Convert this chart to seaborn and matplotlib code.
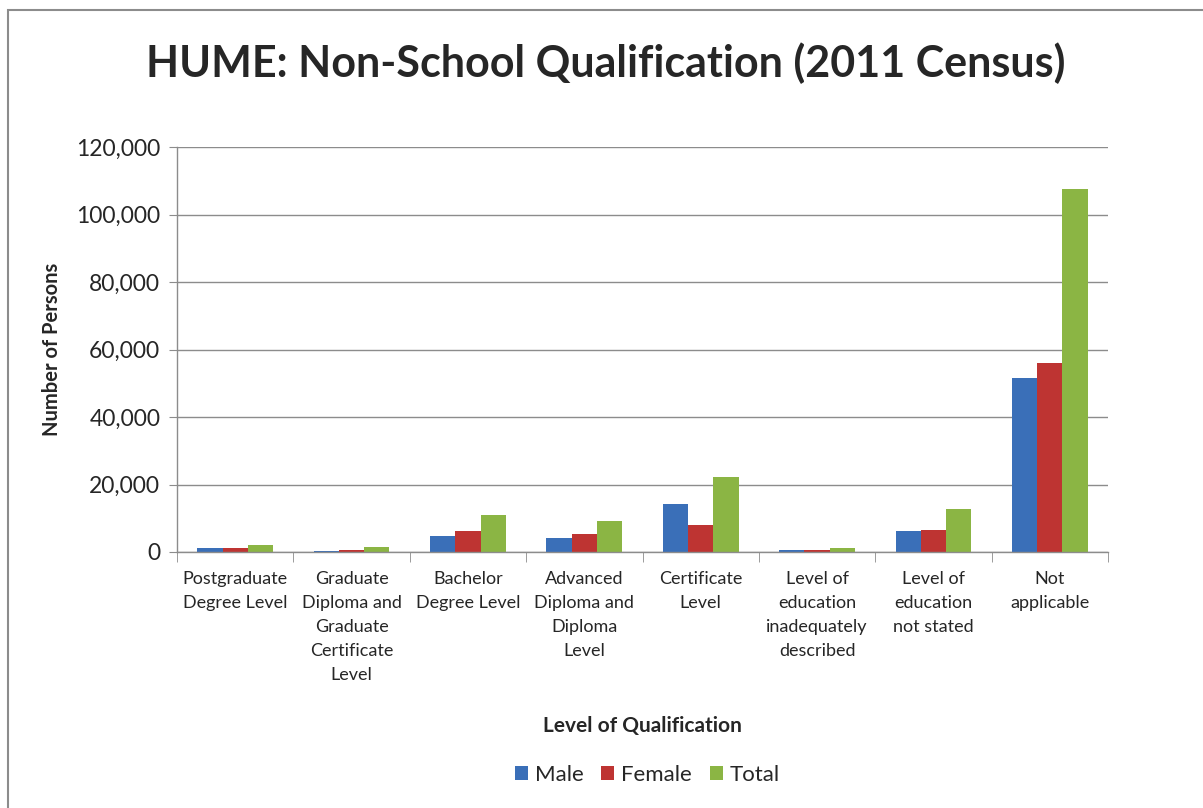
import pandas as pd
import matplotlib.pyplot as plt
import seaborn as sns
from matplotlib.patches import Rectangle
from matplotlib.ticker import FuncFormatter, FixedLocator

categories = ['Postgraduate\nDegree Level',
              'Graduate\nDiploma and\nGraduate\nCertificate\nLevel',
              'Bachelor\nDegree Level',
              'Advanced\nDiploma and\nDiploma\nLevel',
              'Certificate\nLevel',
              'Level of\neducation\ninadequately\ndescribed',
              'Level of\neducation\nnot stated',
              'Not\napplicable']
male = [1100, 400, 4700, 4050, 14200, 700, 6200, 51500]
female = [1100, 700, 6200, 5200, 8000, 700, 6600, 55900]
total = [2100, 1400, 11000, 9200, 22200, 1100, 12700, 107500]

series = ['Male', 'Female', 'Total']
colors = ['#3A6FB8', '#BE3432', '#8BB544']

rows = []
for name, vals in zip(series, [male, female, total]):
    for c, v in zip(categories, vals):
        rows.append({'Level': c, 'Series': name, 'Persons': v})
df = pd.DataFrame(rows)

sns.set_style('white')
plt.rcParams['font.family'] = ['Lato', 'DejaVu Sans']

fig = plt.figure(figsize=(12.03, 8.08), dpi=100)
ax = fig.add_axes([177 / 1203, 1 - 552 / 808, (1108 - 177) / 1203, (552 - 147) / 808])

sns.barplot(data=df, x='Level', y='Persons', hue='Series', palette=colors,
            width=0.65, ax=ax, saturation=1, linewidth=0, legend=True)

ax.set_ylim(0, 120000)
ax.set_xlim(-0.5, len(categories) - 0.5)
ax.set_yticks(range(0, 120001, 20000))
ax.yaxis.set_major_formatter(FuncFormatter(lambda v, p: f'{int(v):,}'))
ax.yaxis.grid(True, color='#8c8c8c', linewidth=1)
ax.set_axisbelow(True)
for s in ['top', 'right']:
    ax.spines[s].set_visible(False)
for s in ['left', 'bottom']:
    ax.spines[s].set_color('#8c8c8c')
    ax.spines[s].set_linewidth(1)

ax.tick_params(axis='y', labelsize=16.5, length=6, color='#8c8c8c', left=True, pad=6)
# category labels centered, tick marks on boundaries
ax.set_xticks(range(len(categories)))
ax.set_xticklabels(categories, fontsize=13, linespacing=1.6, va='top')
ax.tick_params(axis='x', length=0, pad=14)
ax.xaxis.set_minor_locator(FixedLocator([i - 0.5 for i in range(len(categories) + 1)]))
ax.tick_params(axis='x', which='minor', length=7, color='#8c8c8c', bottom=True)

ax.set_xlabel('Level of Qualification', fontsize=15, fontweight='bold')
ax.set_ylabel('Number of Persons', fontsize=14.5, fontweight='bold', labelpad=10)
ax.xaxis.set_label_coords(0.5, -(716 - 552) / 405)

fig.suptitle('HUME: Non-School Qualification (2011 Census)', fontsize=31,
             fontweight='bold', x=(155 + 1057) / 2 / 1203, y=1 - 42 / 808)

ax.legend(loc='center', bbox_to_anchor=(0.505, -(775 - 552) / 405), ncol=3,
          frameon=False, fontsize=16, handlelength=0.6, handleheight=0.6,
          handletextpad=0.3, columnspacing=0.8, title=None)

fig.patches.append(Rectangle((8 / 1203, -0.01), 1.1, 1 - 10 / 808 + 0.01,
                             transform=fig.transFigure, fill=False,
                             edgecolor='#8c8c8c', linewidth=1.5))

fig.savefig('out.png', dpi=100, facecolor='white')
